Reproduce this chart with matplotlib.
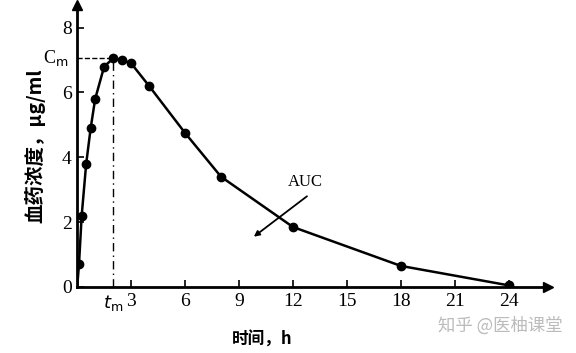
import matplotlib.pyplot as plt

# sampling times (h) and plasma concentrations (ug/ml)
t = [0.1, 0.25, 0.5, 0.75, 1.0, 1.5, 2.0, 2.5, 3.0, 4.0, 6.0, 8.0, 12.0, 18.0, 24.0]
c = [0.7, 2.2, 3.8, 4.9, 5.8, 6.8, 7.05, 7.0, 6.9, 6.2, 4.75, 3.4, 1.85, 0.65, 0.05]
t_max = 2.0
c_max = 7.05
xticks = [3, 6, 9, 12, 15, 18, 21, 24]
yticks = [0, 2, 4, 6, 8]

serif = ['Liberation Serif', 'DejaVu Serif']
cjk = ['Noto Sans CJK SC', 'DejaVu Sans']

fig = plt.figure(figsize=(5.76, 3.53), dpi=100)
ax = fig.add_axes([0.134, 0.187, 0.818, 0.799])

ax.plot([0] + t, [0] + c, color='black', lw=1.8)
ax.plot(t, c, 'o', color='black', ms=6)

# Cm / tm guide lines
ax.plot([0, t_max], [c_max, c_max], '--', color='black', lw=1)
ax.plot([t_max, t_max], [0, c_max], linestyle=(0, (6, 3, 1, 3)), color='black', lw=1)

ax.annotate('', xy=(9.7, 1.5), xytext=(12.9, 2.85),
            arrowprops=dict(arrowstyle='-|>', color='black', lw=1.3, mutation_scale=8))
ax.text(12.7, 3.25, 'AUC', family=serif, fontsize=12, ha='center', va='center')

ax.set_xlim(0, 26.2)
ax.set_ylim(0, 8.7)
for s in ['top', 'right']:
    ax.spines[s].set_visible(False)
for s in ['left', 'bottom']:
    ax.spines[s].set_linewidth(2)
ax.plot(1, 0, '>', color='black', ms=7, transform=ax.transAxes, clip_on=False)
ax.plot(0, 1, '^', color='black', ms=7, transform=ax.transAxes, clip_on=False)

ax.set_xticks(xticks)
ax.set_yticks(yticks)
ax.tick_params(direction='in', length=5, width=1.2, labelsize=14, pad=4)
for lab in ax.get_xticklabels() + ax.get_yticklabels():
    lab.set_family(serif)

ax.text(-0.5, c_max, 'C$_\\mathrm{m}$', family=serif, fontsize=13, ha='right', va='center')
ax.text(t_max, -0.5, '$t$$_\\mathrm{m}$', family=serif, fontsize=13, ha='center', va='center')

ax.set_xlabel('时间，h', family=cjk, fontsize=12, fontweight='bold')
ax.xaxis.set_label_coords(0.393, -0.155)
ax.set_ylabel('血药浓度，μg/ml', family=cjk, fontsize=14, fontweight='bold')
ax.yaxis.set_label_coords(-0.068, 0.5)

fig.text(0.868, 0.079, '知乎 @医柚课堂', family=cjk, fontsize=12.5, color='#bbbbbb',
         ha='center', va='center')

fig.savefig('out.png', dpi=100)
